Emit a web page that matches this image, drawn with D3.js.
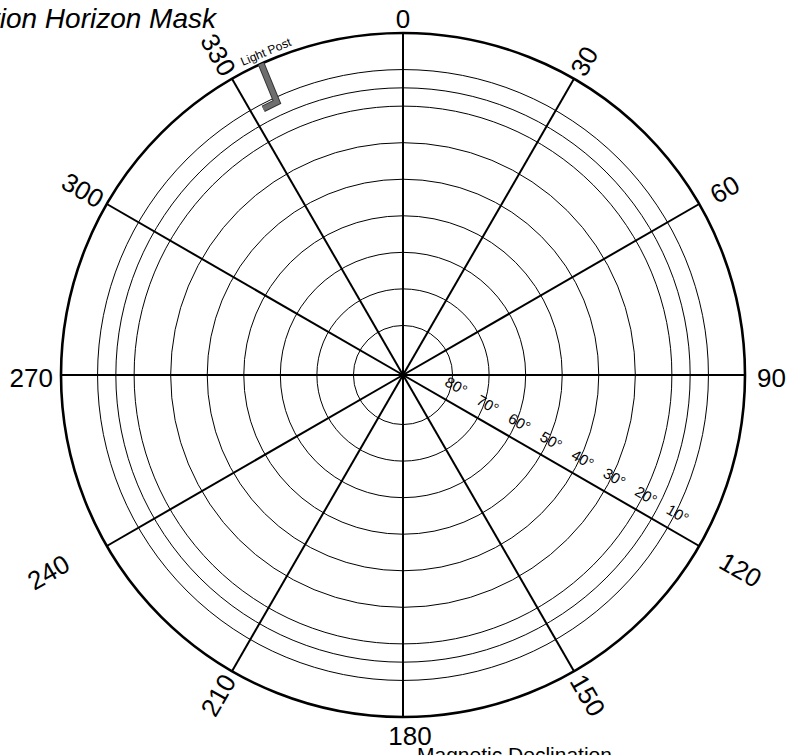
<!DOCTYPE html>
<html>
<head>
<meta charset="utf-8">
<script src="https://cdn.jsdelivr.net/npm/d3@7"></script>
<style>
  body { margin: 0; background: #fff; }
  svg { display: block; }
</style>
</head>
<body>
<div id="chart"></div>
<script>
// azimuth spokes (degrees, clockwise from north)
const bearings = [0, 30, 60, 90, 120, 150, 180, 210, 240, 270, 300, 330];
// elevation rings
const ringElevations = [80, 70, 60, 50, 40, 30, 20, 15, 10];
const ringLabels = [80, 70, 60, 50, 40, 30, 20, 10];
const ringLabelBearing = 120;
// horizon mask obstruction
const maskName = 'Light Post';
const maskBearings = [335.5, 335.2, 332.3];
const maskElevations = [0, 11.3, 11.3];

const title = 'Station Horizon Mask';
const footnote = 'Magnetic Declination';

const width = 790, height = 755;
const cx = 403, cy = 375, R = 342;
const font = 'Liberation Sans, Arial, Helvetica, sans-serif';

const svg = d3.select('#chart')
  .append('svg')
    .attr('width', width)
    .attr('height', height);

const g = svg.append('g')
    .attr('transform', `translate(${cx},${cy})`);

// radial scale: elevation -> radius
const r = d3.scaleLinear()
    .domain([90, 0])
    .range([13, R]);

const rad = d => d * Math.PI / 180;
const px = (b, rr) => rr * Math.sin(rad(b));
const py = (b, rr) => -rr * Math.cos(rad(b));

// rings
g.selectAll('.ring')
  .data(ringElevations)
  .join('circle')
    .attr('class', 'ring')
    .attr('r', d => r(d))
    .attr('fill', 'none')
    .attr('stroke', '#000')
    .attr('stroke-width', 1);

// spokes
g.selectAll('.spoke')
  .data(bearings)
  .join('line')
    .attr('class', 'spoke')
    .attr('x1', 0).attr('y1', 0)
    .attr('x2', d => px(d, r(0)))
    .attr('y2', d => py(d, r(0)))
    .attr('stroke', '#000')
    .attr('stroke-width', 2);

// outer circle
g.append('circle')
    .attr('r', r(0))
    .attr('fill', 'none')
    .attr('stroke', '#000')
    .attr('stroke-width', 2.6);

g.append('circle').attr('r', 2.5).attr('fill', '#000');

// ring labels along the 120 spoke
const u = [Math.sin(rad(ringLabelBearing)), -Math.cos(rad(ringLabelBearing))];
const nrm = [u[1], -u[0]];
g.selectAll('.ringLabel')
  .data(ringLabels)
  .join('text')
    .attr('class', 'ringLabel')
    .attr('transform', d => {
      const x = u[0] * (r(d) + 2) + nrm[0] * 17;
      const y = u[1] * (r(d) + 2) + nrm[1] * 17;
      return `translate(${x},${y}) rotate(${ringLabelBearing - 90})`;
    })
    .attr('text-anchor', 'middle')
    .attr('dy', '0.35em')
    .attr('font-family', font)
    .attr('font-size', 15)
    .attr('fill', '#000')
    .text(d => d + '°');

// azimuth labels (extra gap for some, as in the original)
const gap = {60: 15, 120: 26, 240: 42};
const lab = g.selectAll('.azLabel')
  .data(bearings)
  .join('text')
    .attr('class', 'azLabel')
    .attr('font-family', font)
    .attr('font-size', 26)
    .attr('fill', '#000')
    .text(d => d);

lab.each(function(b) {
  const t = d3.select(this);
  if (b === 0) {
    t.attr('text-anchor', 'middle').attr('x', 0).attr('y', -R - 5);
  } else if (b === 180) {
    t.attr('text-anchor', 'middle').attr('x', 7).attr('y', R + 28);
  } else if (b === 90) {
    t.attr('text-anchor', 'start').attr('x', R + 12).attr('y', 3).attr('dy', '0.35em');
  } else if (b === 270) {
    t.attr('text-anchor', 'end').attr('x', -R - 8).attr('y', 3).attr('dy', '0.35em');
  } else {
    const rr = R + (gap[b] || 6);
    const rot = b < 180 ? b - 90 : b - 270;
    t.attr('text-anchor', b < 180 ? 'start' : 'end')
     .attr('dy', b === 240 ? '0.1em' : '0.35em')
     .attr('transform', `translate(${px(b, rr)},${py(b, rr)}) rotate(${rot})`);
  }
});

// horizon mask
const maskData = maskBearings.map((b, i) => ({bearing: b, elev: maskElevations[i]}));
const maskLine = d3.lineRadial()
    .angle(d => rad(d.bearing))
    .radius(d => r(d.elev));

g.append('path')
    .attr('d', maskLine(maskData))
    .attr('fill', 'none')
    .attr('stroke', '#333')
    .attr('stroke-width', 7)
    .attr('stroke-linejoin', 'miter');
g.append('path')
    .attr('d', maskLine(maskData))
    .attr('fill', 'none')
    .attr('stroke', '#6e6e6e')
    .attr('stroke-width', 5)
    .attr('stroke-linejoin', 'miter');

const lpB = maskBearings[0] + 1.5;
g.append('text')
    .attr('transform', `translate(${px(lpB, R + 5)},${py(lpB, R + 5)}) rotate(${lpB - 360})`)
    .attr('text-anchor', 'middle')
    .attr('font-family', font)
    .attr('font-size', 12)
    .attr('fill', '#000')
    .text(maskName);

// title & footnote
svg.append('text')
    .attr('x', 216)
    .attr('y', 28)
    .attr('text-anchor', 'end')
    .attr('font-family', font)
    .attr('font-style', 'italic')
    .attr('font-size', 28)
    .text(title);

svg.append('text')
    .attr('x', 417)
    .attr('y', 762)
    .attr('font-family', font)
    .attr('font-size', 21)
    .text(footnote);
</script>
</body>
</html>
